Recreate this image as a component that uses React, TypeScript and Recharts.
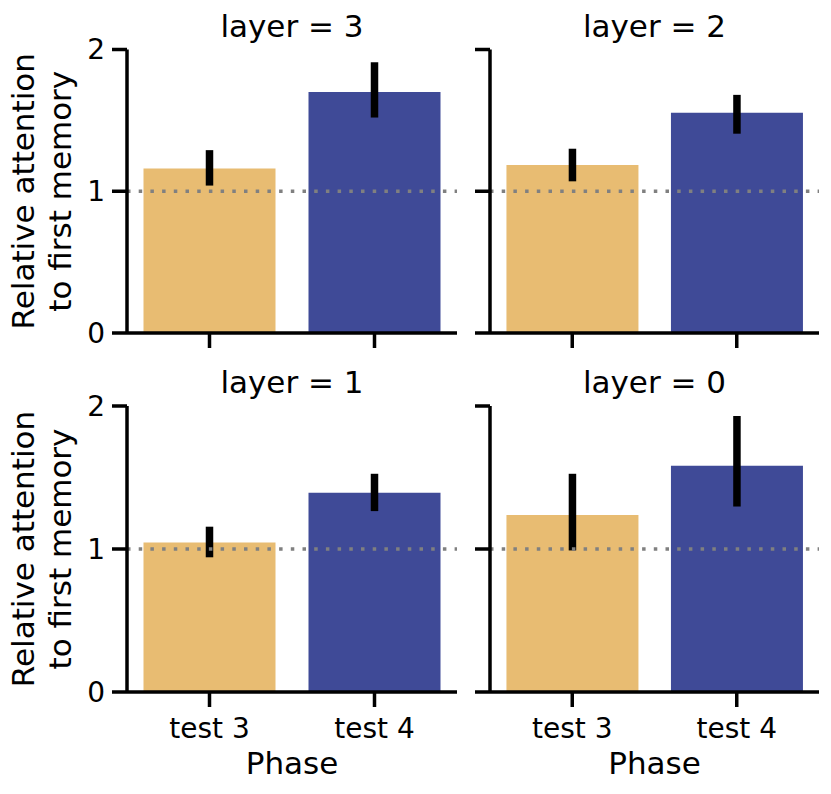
import { BarChart, Bar, XAxis, YAxis, Cell, ErrorBar, ReferenceLine } from 'recharts'

const phases = ['test 3', 'test 4']
const barColors = ['#e8bc72', '#3f4a97']
const yTicks = [0, 1, 2]

// mean and 95% CI per layer
const layer3Mean = [1.16, 1.70]
const layer3Low = [1.04, 1.52]
const layer3High = [1.29, 1.91]

const layer2Mean = [1.185, 1.553]
const layer2Low = [1.07, 1.406]
const layer2High = [1.30, 1.68]

const layer1Mean = [1.045, 1.394]
const layer1Low = [0.942, 1.265]
const layer1High = [1.156, 1.526]

const layer0Mean = [1.237, 1.582]
const layer0Low = [0.99, 1.297]
const layer0High = [1.526, 1.93]

const FONT = '"DejaVu Sans", sans-serif'
const W = 831
const H = 794

const buildRows = (mean: number[], low: number[], high: number[]) =>
  phases.map((phase, i) => ({
    phase,
    value: mean[i],
    err: [mean[i] - low[i], high[i] - mean[i]],
  }))

type PanelProps = {
  title: string
  rows: { phase: string; value: number; err: number[] }[]
  plotLeft: number
  plotRight: number
  plotTop: number
  plotBottom: number
  showX: boolean
  showY: boolean
}

const Panel = ({ rows, plotLeft, plotRight, plotTop, plotBottom, showX, showY }: PanelProps) => {
  const yAxisWidth = 60
  const xAxisHeight = 40
  return (
    <div style={{ position: 'absolute', left: 0, top: 0 }}>
      <BarChart
        width={W}
        height={H}
        data={rows}
        barCategoryGap="10%"
        margin={{
          left: plotLeft - yAxisWidth,
          right: W - plotRight,
          top: plotTop,
          bottom: H - plotBottom - xAxisHeight,
        }}
      >
        <XAxis
          dataKey="phase"
          height={xAxisHeight}
          axisLine={{ stroke: '#000', strokeWidth: 3.5 }}
          tickLine={{ stroke: '#000', strokeWidth: 3.5 }}
          tickSize={15}
          tickMargin={11}
          tick={{ fontSize: 28, fill: '#000', fontFamily: FONT }}
          tickFormatter={showX ? undefined : () => ''}
        />
        <YAxis
          width={yAxisWidth}
          domain={[0, 2]}
          ticks={yTicks}
          axisLine={{ stroke: '#000', strokeWidth: 3.5 }}
          tickLine={{ stroke: '#000', strokeWidth: 3.5 }}
          tickSize={15}
          tickMargin={7}
          tick={{ fontSize: 28, fill: '#000', fontFamily: FONT }}
          tickFormatter={showY ? undefined : () => ''}
        />
        <Bar dataKey="value" isAnimationActive={false}>
          {rows.map((r, i) => (
            <Cell key={r.phase} fill={barColors[i]} />
          ))}
          <ErrorBar dataKey="err" width={0} strokeWidth={7.5} stroke="#000" isAnimationActive={false} />
        </Bar>
        <ReferenceLine y={1} stroke="#808080" strokeWidth={3.5} strokeDasharray="3.5 8.2" />
      </BarChart>
    </div>
  )
}

const panels = [
  { title: 'layer = 3', rows: buildRows(layer3Mean, layer3Low, layer3High), plotLeft: 127, plotRight: 457, plotTop: 49.5, plotBottom: 333, showX: false, showY: true },
  { title: 'layer = 2', rows: buildRows(layer2Mean, layer2Low, layer2High), plotLeft: 490, plotRight: 819, plotTop: 49.5, plotBottom: 333, showX: false, showY: false },
  { title: 'layer = 1', rows: buildRows(layer1Mean, layer1Low, layer1High), plotLeft: 127, plotRight: 457, plotTop: 406, plotBottom: 692, showX: true, showY: true },
  { title: 'layer = 0', rows: buildRows(layer0Mean, layer0Low, layer0High), plotLeft: 490, plotRight: 819, plotTop: 406, plotBottom: 692, showX: true, showY: false },
]

export default function App() {
  return (
    <div style={{ position: 'absolute', left: 0, top: 0, width: W, height: H, background: '#fff', fontFamily: FONT }}>
      {panels.map((p) => (
        <Panel key={p.title} {...p} />
      ))}
      <svg width={W} height={H} style={{ position: 'absolute', left: 0, top: 0, pointerEvents: 'none' }}>
        {panels.map((p) => (
          <text
            key={p.title}
            x={(p.plotLeft + p.plotRight) / 2}
            y={p.plotTop - 13}
            textAnchor="middle"
            fontSize={31}
            fontFamily={FONT}
            fill="#000"
          >
            {p.title}
          </text>
        ))}
        {panels.filter((p) => p.showX).map((p) => (
          <text
            key={'x' + p.title}
            x={(p.plotLeft + p.plotRight) / 2}
            y={774}
            textAnchor="middle"
            fontSize={31}
            fontFamily={FONT}
            fill="#000"
          >
            Phase
          </text>
        ))}
        {panels.filter((p) => p.showY).map((p) => {
          const cy = (p.plotTop + p.plotBottom) / 2
          return (
            <g key={'y' + p.title}>
              <text x={33.5} y={cy} transform={`rotate(-90 33.5 ${cy})`} textAnchor="middle" fontSize={31} fontFamily={FONT} fill="#000">
                Relative attention
              </text>
              <text x={70.5} y={cy} transform={`rotate(-90 70.5 ${cy})`} textAnchor="middle" fontSize={31} fontFamily={FONT} fill="#000">
                to first memory
              </text>
            </g>
          )
        })}
      </svg>
    </div>
  )
}
